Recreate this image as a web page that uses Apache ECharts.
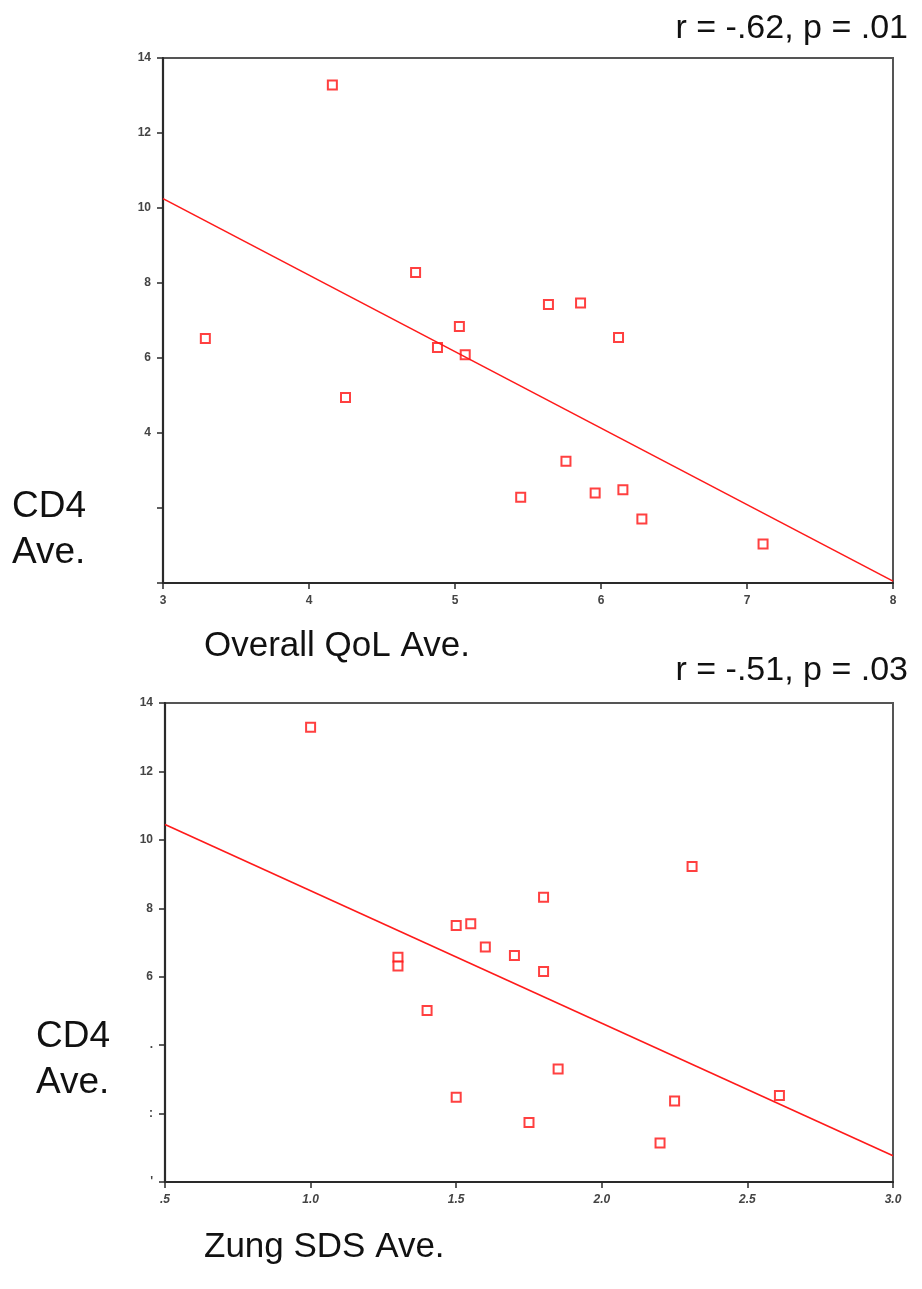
<!DOCTYPE html>
<html>
<head>
<meta charset="utf-8">
<script src="https://cdn.jsdelivr.net/npm/echarts@6/dist/echarts.min.js"></script>
<style>
  html, body { margin: 0; padding: 0; background: #fff; }
  #chart { width: 922px; height: 1289px; }
</style>
</head>
<body>
<div id="chart"></div>
<script>
// top panel: Overall QoL vs CD4
const qolX   = [4.16, 3.29, 4.73, 5.03, 4.88, 5.07, 5.64, 5.86, 6.12, 4.25, 5.76, 5.45, 5.96, 6.15, 6.28, 7.11];
const qolCD4 = [13.28, 6.52, 8.28, 6.84, 6.28, 6.09, 7.43, 7.47, 6.55, 4.95, 3.25, 2.29, 2.40, 2.49, 1.71, 1.04];
const qolFitX = [3, 8];
const qolFitY = [10.25, 0.05];
const qolStat = 'r = -.62, p = .01';

// bottom panel: Zung SDS vs CD4
const sdsX   = [1.00, 2.31, 1.80, 1.50, 1.55, 1.60, 1.70, 1.30, 1.30, 1.80, 1.40, 1.85, 1.50, 1.75, 2.25, 2.20, 2.61];
const sdsCD4 = [13.29, 9.22, 8.32, 7.50, 7.55, 6.87, 6.62, 6.57, 6.31, 6.15, 5.01, 3.30, 2.48, 1.74, 2.37, 1.14, 2.53];
const sdsFitX = [0.5, 3.0];
const sdsFitY = [10.45, 0.77];
const sdsStat = 'r = -.51, p = .03';

const zip = (a, b) => a.map((v, i) => [v, b[i]]);

const tickFont = { fontFamily: 'Liberation Sans Narrow, Liberation Sans, Arial, sans-serif', fontSize: 12, fontWeight: 'bold', color: '#444' };
const bigFont = 'Liberation Sans, Arial, sans-serif';

function axisBase(extra) {
  return Object.assign({
    type: 'value',
    axisLine: { show: true, lineStyle: { color: '#2a2a2a', width: 2.2 } },
    axisTick: { show: true, length: 6, lineStyle: { color: '#2a2a2a', width: 1.5 } },
    splitLine: { show: false }
  }, extra);
}

const chart = echarts.init(document.getElementById('chart'));

const dotStyle = { color: '#fff', borderColor: '#ff1010', borderWidth: 2 };
const fitStyle = { color: '#ff1a1a', width: 1.6 };

chart.setOption({
  animation: false,
  grid: [
    { left: 163, top: 58, width: 730, height: 525, show: true, borderColor: '#555', borderWidth: 2 },
    { left: 165, top: 703, width: 728, height: 479, show: true, borderColor: '#555', borderWidth: 2 }
  ],
  xAxis: [
    axisBase({ gridIndex: 0, min: 3, max: 8, interval: 1,
      axisLabel: Object.assign({ margin: 12 }, tickFont) }),
    axisBase({ gridIndex: 1, min: 0.5, max: 3, interval: 0.5,
      axisLabel: Object.assign({ margin: 12, fontStyle: 'italic',
        formatter: v => v === 0.5 ? '.5' : v.toFixed(1) }, tickFont) })
  ],
  yAxis: [
    axisBase({ gridIndex: 0, min: 0, max: 14, interval: 2,
      axisLabel: Object.assign({ margin: 12,
        formatter: v => v < 4 ? '' : String(v) }, tickFont) }),
    axisBase({ gridIndex: 1, min: 0, max: 14, interval: 2,
      axisLabel: Object.assign({ margin: 12,
        formatter: v => v === 4 ? '.' : v === 2 ? ':' : v === 0 ? "'" : String(v) }, tickFont) })
  ],
  series: [
    { type: 'scatter', xAxisIndex: 0, yAxisIndex: 0, symbol: 'rect', symbolSize: 9,
      itemStyle: dotStyle, data: zip(qolX, qolCD4) },
    { type: 'line', xAxisIndex: 0, yAxisIndex: 0, showSymbol: false,
      lineStyle: fitStyle, data: zip(qolFitX, qolFitY) },
    { type: 'scatter', xAxisIndex: 1, yAxisIndex: 1, symbol: 'rect', symbolSize: 9,
      itemStyle: dotStyle, data: zip(sdsX, sdsCD4) },
    { type: 'line', xAxisIndex: 1, yAxisIndex: 1, showSymbol: false,
      lineStyle: fitStyle, data: zip(sdsFitX, sdsFitY) }
  ],
  graphic: [
    { type: 'text', right: 14, top: 12, style: { text: qolStat, font: '34px ' + bigFont, fill: '#111' } },
    { type: 'text', left: 12, top: 488, style: { text: 'CD4', font: '37px ' + bigFont, fill: '#111' } },
    { type: 'text', left: 12, top: 534, style: { text: 'Ave.', font: '37px ' + bigFont, fill: '#111' } },
    { type: 'text', left: 204, top: 629, style: { text: 'Overall QoL Ave.', font: '35px ' + bigFont, fill: '#111' } },
    { type: 'text', right: 14, top: 654, style: { text: sdsStat, font: '34px ' + bigFont, fill: '#111' } },
    { type: 'text', left: 36, top: 1018, style: { text: 'CD4', font: '37px ' + bigFont, fill: '#111' } },
    { type: 'text', left: 36, top: 1064, style: { text: 'Ave.', font: '37px ' + bigFont, fill: '#111' } },
    { type: 'text', left: 204, top: 1230, style: { text: 'Zung SDS Ave.', font: '35px ' + bigFont, fill: '#111' } }
  ]
});
</script>
</body>
</html>
